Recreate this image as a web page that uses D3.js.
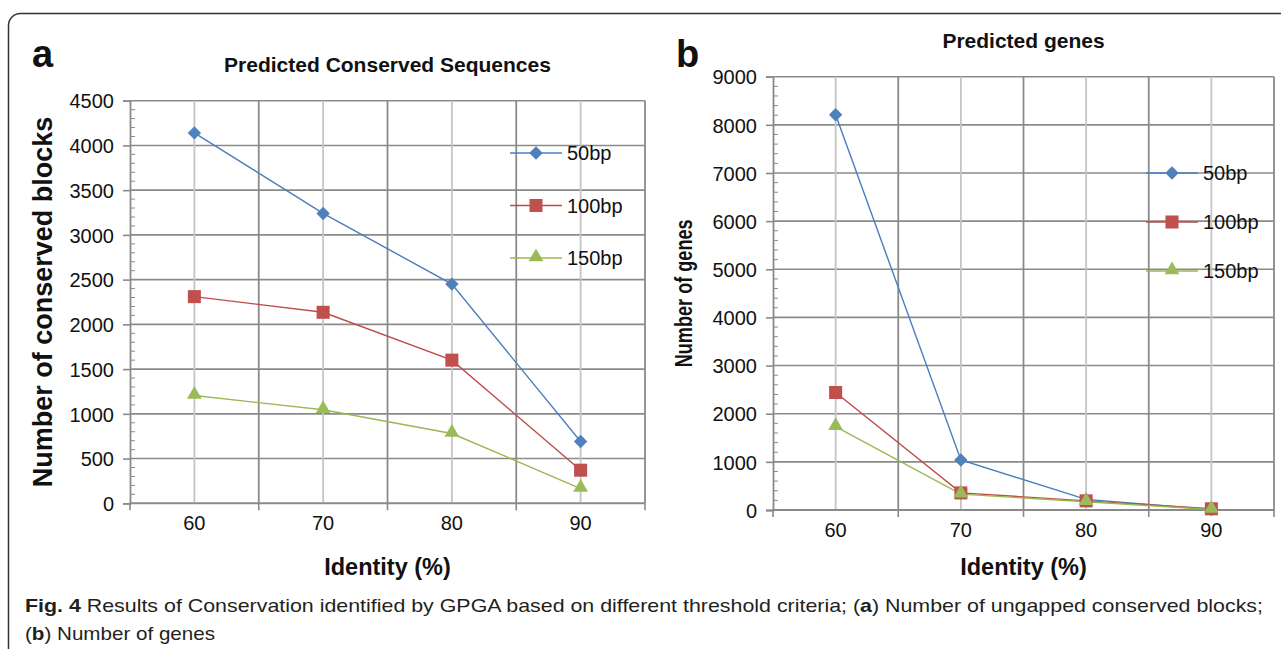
<!DOCTYPE html>
<html>
<head>
<meta charset="utf-8">
<script src="https://cdn.jsdelivr.net/npm/d3@7"></script>
<style>
  html, body { margin: 0; padding: 0; background: #ffffff; }
  svg { display: block; }
  text { font-family: "Liberation Sans", Arial, Helvetica, sans-serif; }
</style>
</head>
<body>
<svg id="chart" width="1281" height="649"></svg>
<script>
// ---------- data ----------
const categories = ["60", "70", "80", "90"];
const seriesNames = ["50bp", "100bp", "150bp"];

// Panel a: Predicted Conserved Sequences (number of conserved blocks)
const blocks50  = [4140, 3240, 2450, 690];
const blocks100 = [2310, 2135, 1600, 370];
const blocks150 = [1205, 1045, 780, 165];

// Panel b: Predicted genes (number of genes)
const genes50  = [8210, 1040, 220, 10];
const genes100 = [2440, 355, 190, 25];
const genes150 = [1730, 330, 170, 10];

const ticksA = [0, 500, 1000, 1500, 2000, 2500, 3000, 3500, 4000, 4500];
const ticksB = [0, 1000, 2000, 3000, 4000, 5000, 6000, 7000, 8000, 9000];

// ---------- styling ----------
const lineColors   = ["#4a7ebb", "#be4b48", "#98b954"];
const markerColors = ["#4f81bd", "#c0504d", "#9bbb59"];
const markerShapes = ["diamond", "square", "triangle"];
const gridDark  = "#8a8a8a";
const gridLight = "#c4c4c4";

const svg = d3.select("#chart");

// outer rounded frame
svg.append("rect")
  .attr("x", 8.5).attr("y", 13.5)
  .attr("width", 1300).attr("height", 700)
  .attr("rx", 12).attr("ry", 12)
  .attr("fill", "none").attr("stroke", "#333").attr("stroke-width", 1.5);

function markerPath(shape) {
  if (shape === "diamond") return d3.symbol(d3.symbolSquare, 90)();
  if (shape === "square") return d3.symbol(d3.symbolSquare, 170)();
  return d3.symbol(d3.symbolTriangle, 95)();
}
function markerTransform(shape, x, y) {
  if (shape === "diamond") return `translate(${x},${y}) rotate(45)`;
  if (shape === "triangle") return `translate(${x},${y - 1})`;
  return `translate(${x},${y})`;
}

function drawPanel(cfg) {
  const g = svg.append("g");
  const x = d3.scaleBand().domain(categories).range([cfg.x0, cfg.x1]).padding(0);
  const y = d3.scaleLinear().domain([0, cfg.ymax]).range([cfg.y0, cfg.y1]);
  const cx = d => x(d) + x.bandwidth() / 2;

  // horizontal gridlines
  g.selectAll(".hg").data(cfg.ticks).enter().append("line")
    .attr("x1", cfg.x0).attr("x2", cfg.x1)
    .attr("y1", d => y(d)).attr("y2", d => y(d))
    .attr("stroke", gridDark).attr("stroke-width", 1.6);

  // vertical light gridlines at category centres
  g.selectAll(".vl").data(categories).enter().append("line")
    .attr("x1", d => cx(d)).attr("x2", d => cx(d))
    .attr("y1", cfg.y1).attr("y2", cfg.y0)
    .attr("stroke", gridLight).attr("stroke-width", 1.8);

  // vertical dark gridlines at band boundaries (incl. right edge)
  const bounds = categories.map(c => x(c)).concat([cfg.x1]);
  g.selectAll(".vd").data(bounds.slice(1)).enter().append("line")
    .attr("x1", d => d).attr("x2", d => d)
    .attr("y1", cfg.y1).attr("y2", cfg.y0)
    .attr("stroke", gridDark).attr("stroke-width", 1.8);

  // y axis
  const yAxis = d3.axisLeft(y).tickValues(cfg.ticks).tickSize(7).tickPadding(9)
    .tickFormat(d3.format("d"));
  const ya = g.append("g").attr("transform", `translate(${cfg.x0},0)`).call(yAxis);
  ya.select(".domain").attr("stroke", gridDark).attr("stroke-width", 1.8);
  ya.selectAll(".tick line").attr("stroke", gridDark).attr("stroke-width", 1.6);
  ya.selectAll(".tick text").attr("font-size", 20).attr("fill", "#111")
    .attr("font-family", "Liberation Sans, Arial, sans-serif").attr("dy", "0.36em");

  // minor ticks (inside)
  const minorStep = cfg.ticks[1] / 5;
  const minors = d3.range(0, cfg.ymax + 1, minorStep).filter(v => v % cfg.ticks[1] !== 0);
  g.selectAll(".mt").data(minors).enter().append("line")
    .attr("x1", cfg.x0).attr("x2", cfg.x0 + 5)
    .attr("y1", d => y(d)).attr("y2", d => y(d))
    .attr("stroke", gridDark).attr("stroke-width", 1);

  // x axis
  g.append("line").attr("x1", cfg.x0 - 1).attr("x2", cfg.x1)
    .attr("y1", cfg.y0).attr("y2", cfg.y0)
    .attr("stroke", gridDark).attr("stroke-width", 1.8);
  g.selectAll(".xt").data(bounds).enter().append("line")
    .attr("x1", d => d).attr("x2", d => d)
    .attr("y1", cfg.y0).attr("y2", cfg.y0 + 7)
    .attr("stroke", gridDark).attr("stroke-width", 1.6);
  g.selectAll(".xl").data(categories).enter().append("text")
    .attr("x", d => cx(d)).attr("y", cfg.y0 + 27)
    .attr("text-anchor", "middle").attr("font-size", 20).attr("fill", "#111")
    .text(d => d);

  // series
  const line = d3.line().x((d, i) => cx(categories[i])).y(d => y(d));
  cfg.series.forEach((vals, si) => {
    g.append("path").datum(vals)
      .attr("d", line).attr("fill", "none")
      .attr("stroke", lineColors[si]).attr("stroke-width", 1.4);
  });
  cfg.series.forEach((vals, si) => {
    g.selectAll(".m" + si).data(vals).enter().append("path")
      .attr("d", markerPath(markerShapes[si]))
      .attr("transform", (d, i) => markerTransform(markerShapes[si], cx(categories[i]), y(d)))
      .attr("fill", markerColors[si]);
  });

  // legend
  seriesNames.forEach((name, si) => {
    const ly = cfg.legY[si];
    g.append("line").attr("x1", cfg.legX).attr("x2", cfg.legX + 52)
      .attr("y1", ly).attr("y2", ly)
      .attr("stroke", lineColors[si]).attr("stroke-width", 1.4);
    g.append("path").attr("d", markerPath(markerShapes[si]))
      .attr("transform", markerTransform(markerShapes[si], cfg.legX + 26, ly))
      .attr("fill", markerColors[si]);
    g.append("text").attr("x", cfg.legX + 57).attr("y", ly + 7)
      .attr("font-size", 20).attr("fill", "#111").text(name);
  });

  // titles
  g.append("text").attr("x", (cfg.x0 + cfg.x1) / 2).attr("y", cfg.titleY)
    .attr("text-anchor", "middle").attr("font-size", 21).attr("font-weight", "bold")
    .attr("fill", "#111").text(cfg.title);
  g.append("text").attr("x", (cfg.x0 + cfg.x1) / 2).attr("y", 575)
    .attr("text-anchor", "middle").attr("font-size", 23.5).attr("font-weight", "bold")
    .attr("fill", "#111").text("Identity (%)");
  const yt = g.append("text")
    .attr("transform", `translate(${cfg.ytX},${(cfg.y0 + cfg.y1) / 2}) rotate(-90)`)
    .attr("text-anchor", "middle").attr("font-size", cfg.ytSize).attr("font-weight", "bold")
    .attr("fill", "#111").text(cfg.yTitle);
  if (cfg.ytLen) yt.attr("textLength", cfg.ytLen).attr("lengthAdjust", "spacingAndGlyphs");
  g.append("text").attr("x", cfg.letterX).attr("y", 67)
    .attr("font-size", 38).attr("font-weight", "bold")
    .attr("fill", "#111").text(cfg.letter);
}

drawPanel({
  x0: 130, x1: 645, y0: 503.3, y1: 100.7, ymax: 4500, ticks: ticksA,
  series: [blocks50, blocks100, blocks150],
  legX: 510, legY: [153, 205.5, 258],
  title: "Predicted Conserved Sequences", titleY: 72,
  yTitle: "Number of conserved blocks", ytX: 52, ytSize: 27, ytLen: 0,
  letter: "a", letterX: 32
});

drawPanel({
  x0: 773, x1: 1274, y0: 510, y1: 76.7, ymax: 9000, ticks: ticksB,
  series: [genes50, genes100, genes150],
  legX: 1146, legY: [173, 222, 271],
  title: "Predicted genes", titleY: 48,
  yTitle: "Number of genes", ytX: 692, ytSize: 23, ytLen: 148,
  letter: "b", letterX: 676
});

// caption
const capFont = "Liberation Sans Narrow, DejaVu Sans Condensed, Arial Narrow, sans-serif";
const cap1 = svg.append("text").attr("x", 25).attr("y", 612)
  .attr("font-size", 19).attr("fill", "#231f20").attr("font-family", capFont)
  .attr("textLength", 1238).attr("lengthAdjust", "spacingAndGlyphs");
cap1.append("tspan").attr("font-weight", "bold").text("Fig. 4");
cap1.append("tspan").text(" Results of Conservation identified by GPGA based on different threshold criteria; (");
cap1.append("tspan").attr("font-weight", "bold").text("a");
cap1.append("tspan").text(") Number of ungapped conserved blocks;");

const cap2 = svg.append("text").attr("x", 25).attr("y", 640)
  .attr("font-size", 19).attr("fill", "#231f20").attr("font-family", capFont)
  .attr("textLength", 190).attr("lengthAdjust", "spacingAndGlyphs");
cap2.append("tspan").text("(");
cap2.append("tspan").attr("font-weight", "bold").text("b");
cap2.append("tspan").text(") Number of genes");
</script>
</body>
</html>
